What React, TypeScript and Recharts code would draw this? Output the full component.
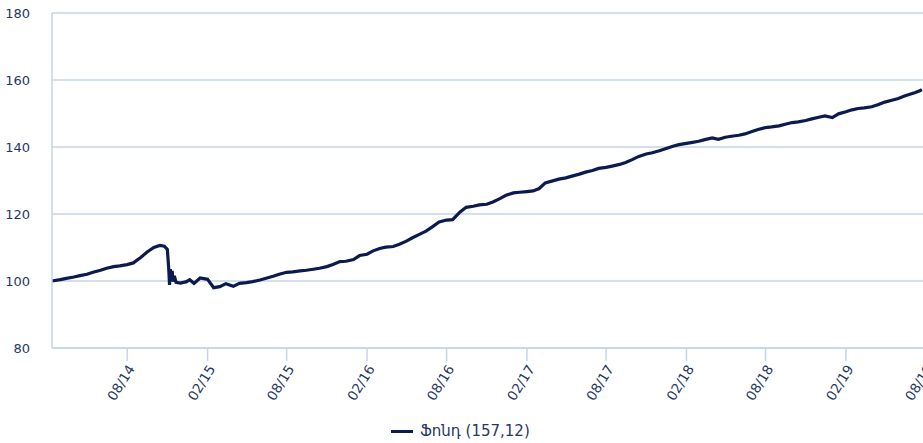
import React from "react";
import { LineChart, Line, XAxis, YAxis, CartesianGrid } from "recharts";

// semi-monthly readings, extra points around the late-2014 drop
const dates = [
  "2014-02-10", "2014-03-01", "2014-03-15", "2014-04-01", "2014-04-15", "2014-05-01", "2014-05-15",
  "2014-06-01", "2014-06-15", "2014-07-01", "2014-07-15", "2014-08-01", "2014-08-15", "2014-09-01",
  "2014-09-15", "2014-10-01", "2014-10-15", "2014-10-25", "2014-11-01", "2014-11-04", "2014-11-06",
  "2014-11-08", "2014-11-10", "2014-11-12", "2014-11-14", "2014-11-17", "2014-11-21", "2014-12-01",
  "2014-12-15", "2014-12-22", "2015-01-01", "2015-01-15", "2015-02-01", "2015-02-15", "2015-03-01",
  "2015-03-15", "2015-04-01", "2015-04-15", "2015-05-01", "2015-05-15", "2015-06-01", "2015-06-15",
  "2015-07-01", "2015-07-15", "2015-08-01", "2015-08-15", "2015-09-01", "2015-09-15", "2015-10-01",
  "2015-10-15", "2015-11-01", "2015-11-15", "2015-12-01", "2015-12-15", "2016-01-01", "2016-01-15",
  "2016-02-01", "2016-02-15", "2016-03-01", "2016-03-15", "2016-04-01", "2016-04-15", "2016-05-01",
  "2016-05-15", "2016-06-01", "2016-06-15", "2016-07-01", "2016-07-15", "2016-08-01", "2016-08-15",
  "2016-09-01", "2016-09-15", "2016-10-01", "2016-10-15", "2016-11-01", "2016-11-15", "2016-12-01",
  "2016-12-15", "2017-01-01", "2017-01-15", "2017-02-01", "2017-02-15", "2017-03-01", "2017-03-15",
  "2017-04-01", "2017-04-15", "2017-05-01", "2017-05-15", "2017-06-01", "2017-06-15", "2017-07-01",
  "2017-07-15", "2017-08-01", "2017-08-15", "2017-09-01", "2017-09-15", "2017-10-01", "2017-10-15",
  "2017-11-01", "2017-11-15", "2017-12-01", "2017-12-15", "2018-01-01", "2018-01-15", "2018-02-01",
  "2018-02-15", "2018-03-01", "2018-03-15", "2018-04-01", "2018-04-15", "2018-05-01", "2018-05-15",
  "2018-06-01", "2018-06-15", "2018-07-01", "2018-07-15", "2018-08-01", "2018-08-15", "2018-09-01",
  "2018-09-15", "2018-10-01", "2018-10-15", "2018-11-01", "2018-11-15", "2018-12-01", "2018-12-15",
  "2019-01-01", "2019-01-15", "2019-02-01", "2019-02-15", "2019-03-01", "2019-03-15", "2019-04-01",
  "2019-04-15", "2019-05-01", "2019-05-15", "2019-06-01", "2019-06-15", "2019-07-01", "2019-07-10",
  "2019-07-20", "2019-07-25",
];

const fund = [
  100.0, 100.4, 100.8, 101.2, 101.6, 102.0, 102.6,
  103.2, 103.8, 104.3, 104.5, 104.9, 105.4, 107.0,
  108.6, 110.0, 110.6, 110.4, 109.4, 104.0, 98.8,
  103.5, 101.0, 103.0, 99.8, 101.5, 99.6, 99.4,
  99.8, 100.4, 99.3, 100.9, 100.5, 98.0, 98.3,
  99.2, 98.4, 99.3, 99.5, 99.8, 100.3, 100.8,
  101.4, 102.0, 102.6, 102.7, 103.0, 103.2, 103.5,
  103.8, 104.3, 104.9, 105.8, 105.9, 106.4, 107.6,
  108.0, 109.0, 109.7, 110.1, 110.3, 111.0, 111.9,
  112.9, 114.0, 114.9, 116.3, 117.6, 118.2, 118.3,
  120.6, 122.0, 122.3, 122.7, 122.9, 123.6, 124.6,
  125.6, 126.3, 126.5, 126.7, 126.9, 127.6, 129.3,
  129.9, 130.4, 130.8, 131.3, 131.9, 132.5, 133.0,
  133.6, 133.9, 134.3, 134.8, 135.4, 136.3, 137.2,
  137.9, 138.3, 138.9, 139.5, 140.2, 140.7, 141.1,
  141.4, 141.7, 142.2, 142.7, 142.3, 142.9, 143.2,
  143.5, 143.9, 144.6, 145.2, 145.8, 146.0, 146.3,
  146.8, 147.3, 147.5, 147.9, 148.4, 148.9, 149.3,
  148.8, 149.9, 150.5, 151.1, 151.5, 151.7, 152.0,
  152.6, 153.4, 153.9, 154.5, 155.2, 155.9, 156.3,
  156.8, 157.12,
];

const tickDates = [
  "2014-08-01", "2015-02-01", "2015-08-01", "2016-02-01", "2016-08-01", "2017-02-01",
  "2017-08-01", "2018-02-01", "2018-08-01", "2019-02-01", "2019-08-01",
];
const yTicks = [80, 100, 120, 140, 160, 180];

const seriesName = "Ֆոնդ (157,12)";

const ts = (d: string) => Date.parse(d + "T00:00:00Z");
const data = dates.map((d, i) => ({ t: ts(d), v: fund[i] }));

const FONT = "'DejaVu Sans', Tahoma, sans-serif";
const TEXT = "#1f3864";
const GRID = "#c6d4e8";
const LINE = "#0b1a4f";

const fmt = (t: number) => {
  const d = new Date(t);
  const m = String(d.getUTCMonth() + 1).padStart(2, "0");
  const y = String(d.getUTCFullYear()).slice(2);
  return `${m}/${y}`;
};

const XTick = ({ x, y, payload }: any) => (
  <g transform={`translate(${x + 4},${y + 5})`}>
    <text
      textAnchor="end"
      dominantBaseline="central"
      transform="rotate(-58)"
      fill={TEXT}
      fontSize={13.5}
      fontFamily={FONT}
    >
      {fmt(payload.value)}
    </text>
  </g>
);

export default function App() {
  return (
    <div
      style={{
        position: "fixed",
        left: 0,
        top: 0,
        width: 923,
        height: 443,
        overflow: "hidden",
        background: "#fff",
      }}
    >
      <LineChart
        width={940}
        height={443}
        data={data}
        margin={{ top: 13, right: 15, left: 0, bottom: 0 }}
      >
        <CartesianGrid horizontal vertical={false} stroke={GRID} strokeWidth={1.3} />
        <XAxis
          dataKey="t"
          type="number"
          scale="time"
          domain={[ts("2014-02-10"), ts("2019-08-01")]}
          ticks={tickDates.map(ts)}
          height={95}
          tickSize={13}
          tickMargin={0}
          stroke={GRID}
          strokeWidth={1.5}
          tick={<XTick />}
          interval={0}
        />
        <YAxis
          type="number"
          domain={[80, 180]}
          ticks={yTicks}
          width={52}
          tickLine={false}
          tickSize={0}
          tickMargin={22}
          stroke={GRID}
          strokeWidth={1.5}
          tick={{ fill: TEXT, fontSize: 13, fontFamily: FONT }}
        />
        <Line
          type="linear"
          dataKey="v"
          name={seriesName}
          stroke={LINE}
          strokeWidth={3.2}
          dot={false}
          isAnimationActive={false}
        />
      </LineChart>
      <div
        style={{
          position: "absolute",
          left: 391,
          top: 422,
          display: "flex",
          alignItems: "center",
          fontFamily: FONT,
          fontSize: 15,
          color: TEXT,
          whiteSpace: "nowrap",
        }}
      >
        <span style={{ display: "inline-block", width: 22, height: 3, background: LINE, marginRight: 7 }} />
        <span>{seriesName}</span>
      </div>
    </div>
  );
}
